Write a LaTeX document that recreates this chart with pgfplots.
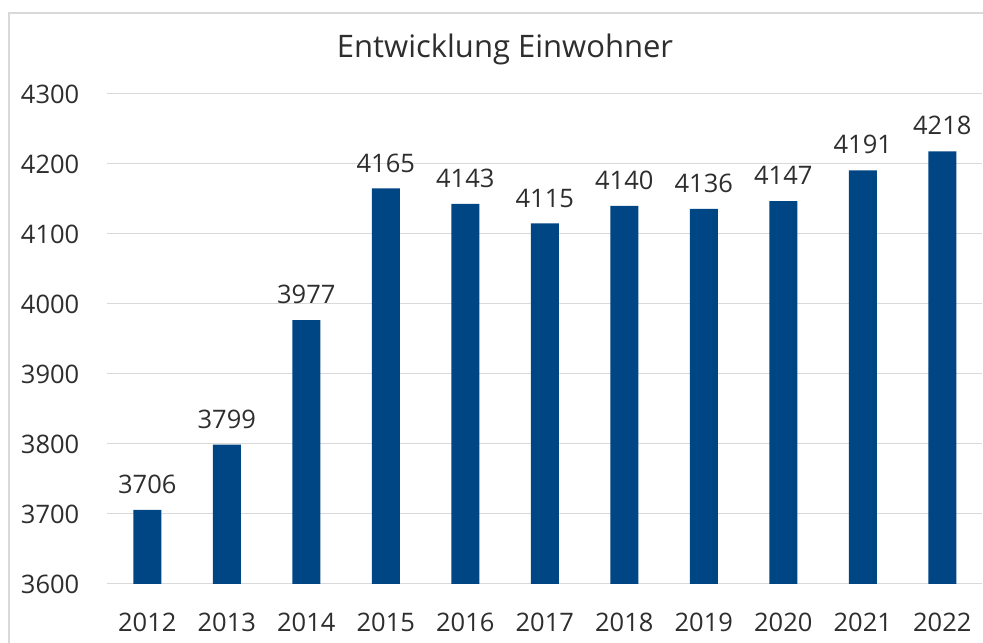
\documentclass[border=0pt]{standalone}
\usepackage{fontspec}
\setmainfont{Open Sans}
\usepackage{pgfplots}
\pgfplotsset{compat=1.18}
\definecolor{barblue}{HTML}{004584}
\definecolor{gridgray}{HTML}{D9D9D9}
\definecolor{txt}{HTML}{2E2E2E}
\begin{document}
\begin{tikzpicture}
\useasboundingbox (0bp,0bp) rectangle (983bp,643bp);
\fill[white] (0bp,0bp) rectangle (983bp,643bp);
\draw[gridgray, line width=1.2bp] (9bp,-20bp) -- (9bp,630bp) -- (1010bp,630bp);
\node[anchor=base, text=txt, font=\fontsize{31bp}{36bp}\selectfont] at (505bp,585bp) {Entwicklung Einwohner};
\begin{axis}[
    at={(107.5bp,59bp)}, anchor=south west,
    scale only axis,
    width=874.5bp, height=490bp,
    ybar, bar width=28bp, bar shift=0pt,
    xmin=-0.5, xmax=10.5,
    ymin=3600, ymax=4300,
    ytick={3600,3700,...,4300},
    xtick=data,
    xticklabels={2012,2013,2014,2015,2016,2017,2018,2019,2020,2021,2022},
    axis line style={draw=none},
    major tick length=0pt,
    ymajorgrids,
    grid style={gridgray, line width=1bp},
    /pgf/number format/1000 sep={},
    /pgf/number format/assume math mode=true,
    tick label style={text=txt, font=\fontsize{25.5bp}{30bp}\selectfont},
    yticklabel style={anchor=east, inner sep=0pt, xshift=-28bp},
    xticklabel style={anchor=north, inner sep=0pt, yshift=-29bp},
    nodes near coords,
    every node near coord/.append style={anchor=south, inner sep=0pt, yshift=16bp,
        text=txt, font=\fontsize{25.5bp}{30bp}\selectfont},
    clip=false,
]
\addplot[fill=barblue, draw=none] coordinates {
    (0,3706) (1,3799) (2,3977) (3,4165) (4,4143) (5,4115)
    (6,4140) (7,4136) (8,4147) (9,4191) (10,4218)
};
\end{axis}
\end{tikzpicture}
\end{document}
